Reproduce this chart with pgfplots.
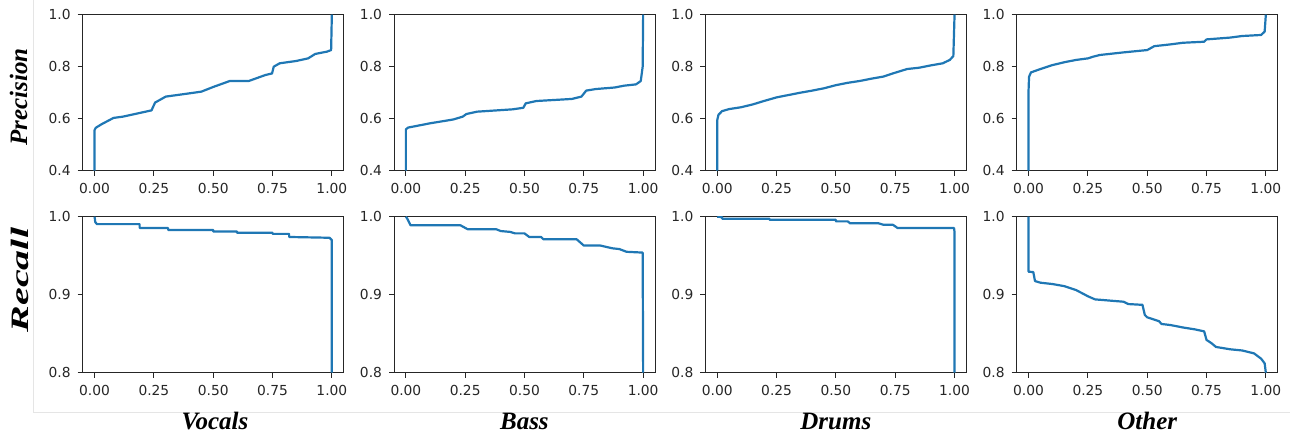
\documentclass[border=0pt]{standalone}
\usepackage{fontspec}
\setmainfont{Liberation Serif}
\newfontfamily\tickfont{DejaVu Sans}
\usepackage{pgfplots}
\pgfplotsset{compat=1.18}
\definecolor{mplblue}{HTML}{1F77B4}

\pgfplotsset{
  panel/.style={
    scale only axis, width=130.5pt, height=78pt,
    anchor=south west,
    xmin=-0.05, xmax=1.05,
    xtick={0,0.25,0.5,0.75,1},
    xticklabel style={/pgf/number format/fixed, /pgf/number format/fixed zerofill, /pgf/number format/precision=2},
    yticklabel style={/pgf/number format/fixed, /pgf/number format/fixed zerofill, /pgf/number format/precision=1},
    /pgf/number format/assume math mode=true,
    tick label style={font=\tickfont\fontsize{6.9}{7.5}\selectfont, text=black!85},
    tick align=outside, tick pos=left, major tick length=2.5pt,
    axis line style={line width=0.5pt, black!85},
    every tick/.style={line width=0.5pt, black!85},
    xticklabel shift=0pt, yticklabel shift=0pt,
  },
  prec/.style={panel, ymin=0.4, ymax=1.0, ytick={0.4,0.6,0.8,1.0}},
  rec/.style={panel, ymin=0.8, ymax=1.0, ytick={0.8,0.9,1.0}},
  curve/.style={mplblue, line width=1.1pt, line join=round},
}

\begin{document}
\begin{tikzpicture}[x=1pt,y=1pt]
\useasboundingbox (0,0) rectangle (645,217);
\draw[black!10, line width=0.4pt] (16.5,217) -- (16.5,11) -- (645,11);

% Precision row
\begin{axis}[prec, at={(41.35pt,131.65pt)}]
\addplot[curve] coordinates {(0,0.4)(0,0.556)(0.005,0.565)(0.03,0.579)(0.08,0.603)(0.12,0.608)(0.18,0.62)(0.24,0.632)(0.255,0.662)(0.3,0.685)(0.38,0.695)(0.45,0.704)(0.5,0.722)(0.57,0.745)(0.65,0.745)(0.72,0.768)(0.748,0.774)(0.755,0.80)(0.78,0.813)(0.85,0.822)(0.9,0.832)(0.93,0.849)(0.98,0.858)(0.997,0.864)(1,1.0)};
\end{axis}
\begin{axis}[prec, at={(197.0pt,131.65pt)}]
\addplot[curve] coordinates {(0,0.4)(0,0.559)(0.01,0.566)(0.05,0.573)(0.1,0.582)(0.2,0.597)(0.24,0.608)(0.255,0.618)(0.3,0.627)(0.45,0.636)(0.495,0.642)(0.505,0.659)(0.55,0.668)(0.7,0.676)(0.74,0.685)(0.76,0.708)(0.8,0.714)(0.88,0.72)(0.92,0.727)(0.97,0.732)(0.99,0.745)(0.998,0.8)(1,1.0)};
\end{axis}
\begin{axis}[prec, at={(352.7pt,131.65pt)}]
\addplot[curve] coordinates {(0,0.4)(0,0.595)(0.005,0.615)(0.02,0.629)(0.05,0.637)(0.1,0.644)(0.15,0.655)(0.2,0.669)(0.25,0.682)(0.3,0.691)(0.35,0.70)(0.4,0.708)(0.45,0.717)(0.5,0.729)(0.55,0.738)(0.6,0.745)(0.65,0.754)(0.7,0.762)(0.75,0.777)(0.8,0.791)(0.85,0.796)(0.9,0.805)(0.95,0.813)(0.98,0.826)(0.995,0.841)(1,1.0)};
\end{axis}
\begin{axis}[prec, at={(508.35pt,131.65pt)}]
\addplot[curve] coordinates {(0,0.4)(0,0.71)(0.002,0.761)(0.01,0.778)(0.05,0.791)(0.1,0.806)(0.15,0.817)(0.2,0.826)(0.25,0.832)(0.27,0.838)(0.3,0.845)(0.4,0.855)(0.5,0.864)(0.53,0.879)(0.6,0.886)(0.65,0.892)(0.74,0.896)(0.75,0.905)(0.85,0.912)(0.9,0.918)(0.98,0.922)(0.995,0.935)(1,1.0)};
\end{axis}

% Recall row
\begin{axis}[rec, at={(41.35pt,30.65pt)}]
\addplot[curve] coordinates {(0,1.0)(0.003,0.993)(0.01,0.9905)(0.19,0.9905)(0.19,0.9855)(0.31,0.9855)(0.31,0.983)(0.5,0.983)(0.5,0.981)(0.6,0.981)(0.6,0.9795)(0.75,0.9795)(0.75,0.978)(0.82,0.978)(0.82,0.974)(0.99,0.973)(1,0.97)(1,0.8)};
\end{axis}
\begin{axis}[rec, at={(197.0pt,30.65pt)}]
\addplot[curve] coordinates {(0,1.0)(0.005,0.998)(0.02,0.989)(0.23,0.989)(0.26,0.984)(0.38,0.984)(0.4,0.9816)(0.44,0.9805)(0.46,0.9786)(0.5,0.9786)(0.52,0.974)(0.57,0.974)(0.58,0.971)(0.72,0.971)(0.75,0.963)(0.82,0.963)(0.87,0.9595)(0.9,0.9585)(0.93,0.955)(0.998,0.954)(1,0.8)};
\end{axis}
\begin{axis}[rec, at={(352.7pt,30.65pt)}]
\addplot[curve] coordinates {(0,1.0)(0.02,0.9995)(0.02,0.9975)(0.22,0.9975)(0.22,0.996)(0.5,0.996)(0.5,0.994)(0.55,0.994)(0.56,0.9915)(0.68,0.9915)(0.7,0.9897)(0.74,0.9897)(0.76,0.9855)(0.998,0.9855)(1,0.98)(1,0.8)};
\end{axis}
\begin{axis}[rec, at={(508.35pt,30.65pt)}]
\addplot[curve] coordinates {(0,1.0)(0,0.9295)(0.02,0.929)(0.027,0.9175)(0.05,0.9154)(0.1,0.9137)(0.15,0.911)(0.2,0.906)(0.25,0.898)(0.28,0.894)(0.4,0.891)(0.42,0.888)(0.48,0.887)(0.49,0.874)(0.5,0.871)(0.55,0.866)(0.56,0.8625)(0.6,0.861)(0.65,0.858)(0.7,0.8556)(0.74,0.853)(0.75,0.842)(0.77,0.838)(0.79,0.833)(0.85,0.83)(0.9,0.8285)(0.95,0.8248)(0.98,0.818)(0.995,0.812)(1,0.8)};
\end{axis}

% row and column titles
\begin{scope}[every node/.style={font=\fontsize{12.5}{14}\selectfont\bfseries\itshape, inner sep=0pt}]
\node[rotate=90] at (9.3,168.5) {Precision};
\node[rotate=90, xscale=1.6] at (9.8,77) {Recall};
\node at (107.5,6.5) {Vocals};
\node at (262.2,6.5) {Bass};
\node at (417.9,6.5) {Drums};
\node at (573.6,6.5) {Other};
\end{scope}
\end{tikzpicture}
\end{document}
